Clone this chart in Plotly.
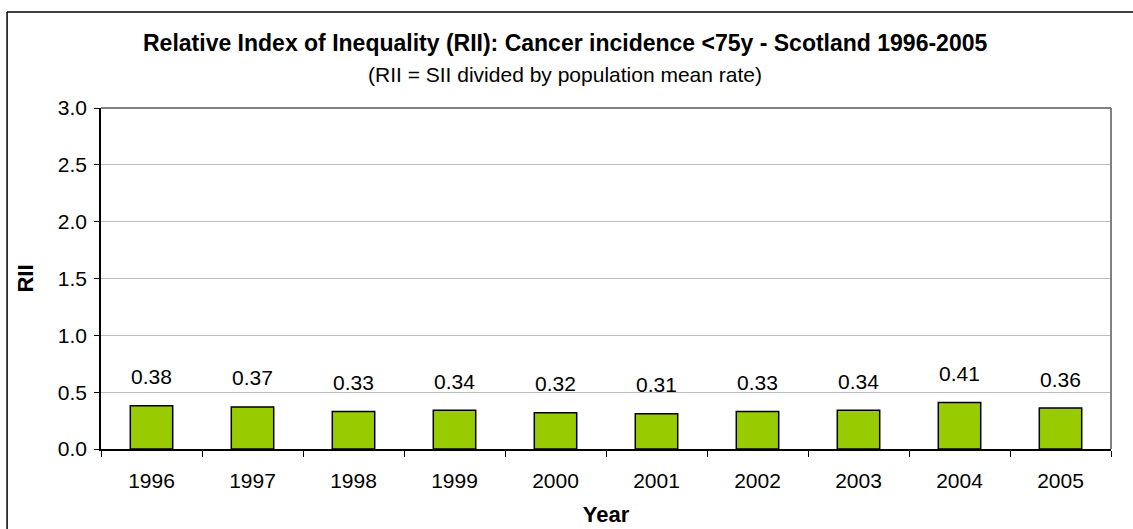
import plotly.graph_objects as go

# Relative Index of Inequality by year
years = ["1996", "1997", "1998", "1999", "2000", "2001", "2002", "2003", "2004", "2005"]
rii = [0.38, 0.37, 0.33, 0.34, 0.32, 0.31, 0.33, 0.34, 0.41, 0.36]
y_ticks = [0.0, 0.5, 1.0, 1.5, 2.0, 2.5, 3.0]

FONT = "Liberation Sans, Arial, sans-serif"

fig = go.Figure()
fig.add_trace(go.Bar(
    x=years, y=rii,
    width=0.42,
    marker=dict(color="#99CC00", line=dict(color="#000000", width=1.5)),
    hoverinfo="x+y",
))

# value labels above each bar (category index positions)
for i, v in enumerate(rii):
    fig.add_annotation(x=i, y=v, text=f"{v:.2f}", showarrow=False,
                       yanchor="middle", yshift=29,
                       font=dict(family=FONT, size=21, color="#000000"))

# title and subtitle
fig.add_annotation(xref="paper", yref="paper", x=0.459, y=1.0, yshift=65,
                   text="<b>Relative Index of Inequality (RII): Cancer incidence &lt;75y - Scotland 1996-2005</b>",
                   showarrow=False, xanchor="center", yanchor="middle",
                   font=dict(family=FONT, size=23, color="#000000"))
fig.add_annotation(xref="paper", yref="paper", x=0.459, y=1.0, yshift=34,
                   text="(RII = SII divided by population mean rate)",
                   showarrow=False, xanchor="center", yanchor="middle",
                   font=dict(family=FONT, size=21, color="#000000"))

# outer chart frame (top and left edges visible)
fig.add_shape(type="line", xref="paper", yref="paper",
              x0=-0.093, x1=1.03, y0=1.2815, y1=1.2815,
              line=dict(color="#000000", width=1.5))
fig.add_shape(type="line", xref="paper", yref="paper",
              x0=-0.093, x1=-0.093, y0=1.2815, y1=-0.3,
              line=dict(color="#000000", width=1.5))
# plot area border on top and right
fig.add_shape(type="line", xref="paper", yref="paper",
              x0=0, x1=1, y0=1, y1=1, line=dict(color="#808080", width=2))
fig.add_shape(type="line", xref="paper", yref="paper",
              x0=1, x1=1, y0=0, y1=1, line=dict(color="#808080", width=2))

fig.update_layout(
    width=1133, height=529,
    margin=dict(l=101, r=22, t=108, b=80),
    paper_bgcolor="#FFFFFF", plot_bgcolor="#FFFFFF",
    showlegend=False,
    font=dict(family=FONT, size=21, color="#000000"),
    xaxis=dict(
        type="category", range=[-0.5, len(years) - 0.5], automargin=False,
        title=dict(text="<b>Year</b>", font=dict(family=FONT, size=22), standoff=16),
        showline=True, linecolor="#000000", linewidth=1.5,
        ticks="outside", ticklen=6, tickcolor="#000000", tickwidth=1,
        tickson="boundaries", tickangle=0, ticklabelstandoff=12,
        showgrid=False, tickfont=dict(size=21),
    ),
    yaxis=dict(
        automargin=False,
        title=dict(text="<b>RII</b>", font=dict(family=FONT, size=22), standoff=18),
        range=[0, 3.0], tickvals=y_ticks, ticktext=[f"{t:.1f}" for t in y_ticks],
        showline=True, linecolor="#000000", linewidth=1.5,
        ticks="outside", ticklen=5, tickcolor="#000000", tickwidth=1,
        ticklabelstandoff=3,
        showgrid=True, gridcolor="#BDBDBD", gridwidth=1,
        zeroline=False, tickfont=dict(size=21),
    ),
)

fig.write_html("out.html")
